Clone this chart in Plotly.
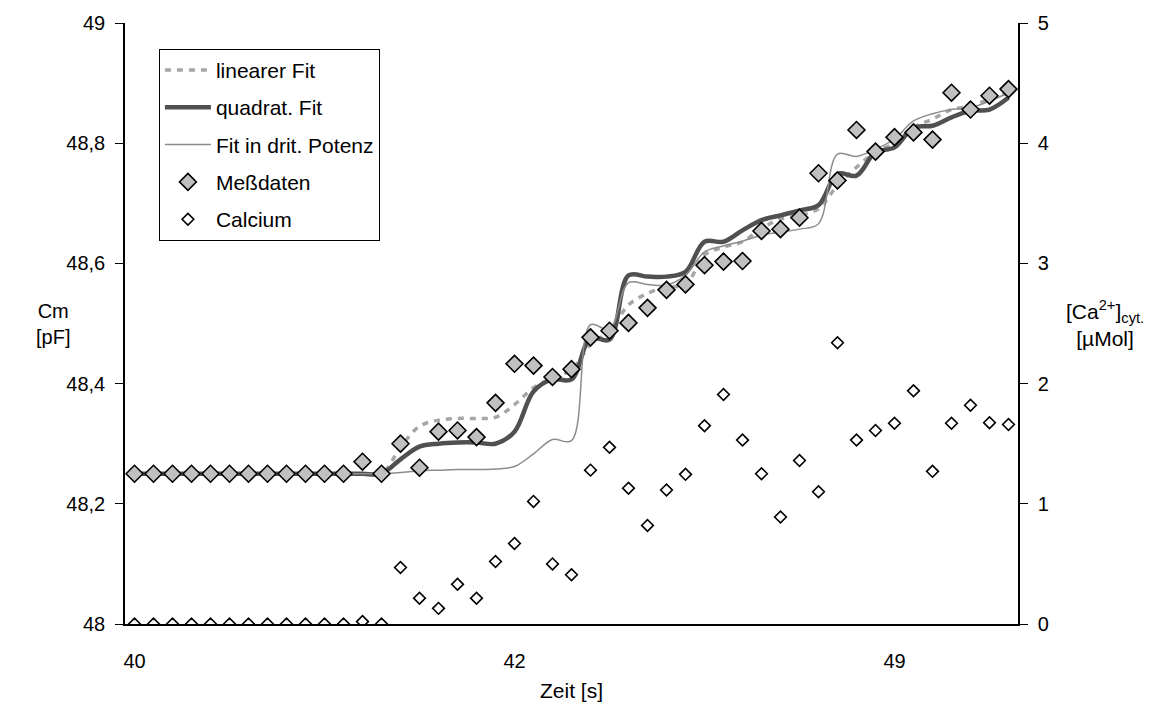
import plotly.graph_objects as go

# ---- data ----
idx = list(range(47))
x_labels_pos = [0, 20, 40]
x_labels_text = ["40", "42", "49"]
x_tick_pos = [19.5, 39.5]

messdaten = [48.25] * 12 + [48.27, 48.25, 48.30, 48.26, 48.32, 48.322, 48.311, 48.368,
             48.433, 48.43, 48.411, 48.424, 48.477, 48.488, 48.501, 48.526, 48.556,
             48.565, 48.597, 48.603, 48.604, 48.654, 48.657, 48.676, 48.75, 48.738,
             48.822, 48.786, 48.81, 48.818, 48.806, 48.884, 48.856, 48.879, 48.89]

calcium = [0.0] * 12 + [0.02, 0.0, 0.47, 0.215, 0.13, 0.33, 0.215, 0.52,
           0.67, 1.02, 0.50, 0.41, 1.28, 1.47, 1.13, 0.82, 1.115, 1.245,
           1.65, 1.91, 1.53, 1.25, 0.89, 1.36, 1.10, 2.34, 1.53, 1.61,
           1.67, 1.94, 1.27, 1.67, 1.82, 1.675, 1.66]

lin_fit = [48.25] * 14 + [48.294, 48.329, 48.339, 48.342, 48.342, 48.344,
           48.365, 48.393, 48.41, 48.423, 48.465, 48.487, 48.531, 48.55, 48.561,
           48.564, 48.614, 48.627, 48.636, 48.658, 48.674, 48.68, 48.691, 48.73,
           48.76, 48.785, 48.80, 48.826, 48.84, 48.856, 48.862, 48.873, 48.884]

quad_fit = [48.25] * 14 + [48.274, 48.295, 48.30, 48.302, 48.302, 48.30,
            48.32, 48.387, 48.407, 48.407, 48.476, 48.473, 48.58, 48.578, 48.578,
            48.586, 48.636, 48.636, 48.655, 48.672, 48.68, 48.688, 48.697, 48.749,
            48.746, 48.785, 48.793, 48.826, 48.829, 48.843, 48.854, 48.856, 48.876]

cub_fit = [48.25] * 14 + [48.252, 48.255, 48.256, 48.257, 48.257, 48.258,
           48.262, 48.283, 48.307, 48.305, 48.498, 48.49, 48.568, 48.565, 48.564,
           48.58, 48.619, 48.629, 48.637, 48.647, 48.652, 48.657, 48.666, 48.782,
           48.778, 48.79, 48.807, 48.837, 48.849, 48.856, 48.859, 48.87, 48.884]

y_left_vals = [48, 48.2, 48.4, 48.6, 48.8, 49]
y_left_text = ["48", "48,2", "48,4", "48,6", "48,8", "49"]
y_right_vals = [0, 1, 2, 3, 4, 5]

FONT = "Liberation Sans, Arial, sans-serif"

fig = go.Figure()
fig.add_trace(go.Scatter(x=idx, y=lin_fit, mode="lines", name="linearer Fit",
                         line=dict(color="#a6a6a6", width=3.5, dash="6px,6px",
                                   shape="spline", smoothing=1),
                         legendgroup="a"))
fig.add_trace(go.Scatter(x=idx, y=quad_fit, mode="lines", name="quadrat. Fit",
                         line=dict(color="#505050", width=4.5, shape="spline", smoothing=1),
                         legendgroup="b"))
fig.add_trace(go.Scatter(x=idx, y=cub_fit, mode="lines", name="Fit in drit. Potenz",
                         line=dict(color="#8c8c8c", width=1.5, shape="spline", smoothing=1),
                         legendgroup="c"))
fig.add_trace(go.Scatter(x=idx, y=messdaten, mode="markers", name="Meßdaten",
                         marker=dict(symbol="diamond", size=13, color="#c0c0c0",
                                     line=dict(color="black", width=1.6)),
                         legendgroup="d"))
fig.add_trace(go.Scatter(x=idx, y=calcium, mode="markers", name="Calcium", yaxis="y2",
                         marker=dict(symbol="diamond", size=9, color="white",
                                     line=dict(color="black", width=1.6)),
                         legendgroup="e"))

tickfont = dict(family=FONT, size=20, color="black")

fig.update_layout(
    width=1157, height=716,
    margin=dict(l=125, r=139, t=20, b=92),
    plot_bgcolor="white", paper_bgcolor="white",
    separators=",.",
    font=dict(family=FONT, color="black"),
    showlegend=True,
    legend=dict(x=0.038, y=0.957, xanchor="left", yanchor="top",
                bordercolor="black", borderwidth=1, bgcolor="white",
                font=dict(family=FONT, size=21, color="black"),
                itemwidth=46, tracegroupgap=7, traceorder="grouped"),
    xaxis=dict(range=[-0.5, 46.5], tickvals=x_labels_pos, ticktext=x_labels_text,
               ticks="", showgrid=False, zeroline=False, showline=True,
               linecolor="black", linewidth=1.5, tickfont=tickfont,
               ticklabelstandoff=18),
    xaxis2=dict(range=[-0.5, 46.5], overlaying="x", anchor="y", side="bottom",
                tickvals=x_tick_pos, ticks="outside", ticklen=8, tickwidth=1.2,
                tickcolor="black", showticklabels=False, showgrid=False,
                zeroline=False, showline=False),
    xaxis3=dict(range=[-0.5, 46.5], overlaying="x", anchor="y", side="bottom",
                tickvals=x_tick_pos, ticks="inside", ticklen=7, tickwidth=1.2,
                tickcolor="black", showticklabels=False, showgrid=False,
                zeroline=False, showline=False),
    xaxis4=dict(range=[-0.5, 46.5], overlaying="x", anchor="y", side="top",
                showline=True, linecolor="#808080", linewidth=1.2, ticks="",
                showticklabels=False, showgrid=False, zeroline=False),
    yaxis=dict(range=[48, 49], tickvals=y_left_vals, ticktext=y_left_text,
               ticks="outside", ticklen=8, tickwidth=1.2, tickcolor="black",
               showgrid=False, zeroline=False, showline=True, linecolor="black",
               linewidth=1.5, tickfont=tickfont, ticklabelstandoff=6),
    yaxis3=dict(range=[48, 49], overlaying="y", anchor="x", side="left",
                tickvals=y_left_vals, ticks="inside", ticklen=8, tickwidth=1.2,
                tickcolor="black", showticklabels=False, showgrid=False,
                zeroline=False, showline=False),
    yaxis2=dict(range=[0, 5], overlaying="y", anchor="x", side="right",
                tickvals=y_right_vals, ticks="outside", ticklen=8, tickwidth=1.2,
                tickcolor="black", showgrid=False, zeroline=False, showline=True,
                linecolor="black", linewidth=1.5, tickfont=tickfont,
                ticklabelstandoff=6),
    yaxis4=dict(range=[0, 5], overlaying="y", anchor="x", side="right",
                tickvals=y_right_vals, ticks="inside", ticklen=8, tickwidth=1.2,
                tickcolor="black", showticklabels=False, showgrid=False,
                zeroline=False, showline=False),
    annotations=[
        dict(text="Cm<br>[pF]", xref="paper", yref="paper", x=-0.081, y=0.5,
             xanchor="center", yanchor="middle", showarrow=False,
             font=dict(family=FONT, size=20, color="black")),
        dict(text="[Ca<sup>2+</sup>]<sub>cyt.</sub><br>[µMol]", xref="paper", yref="paper",
             x=1.097, y=0.5, xanchor="center", yanchor="middle", showarrow=False,
             font=dict(family=FONT, size=21, color="black")),
        dict(text="Zeit [s]", xref="paper", yref="paper", x=0.5, y=-0.11,
             xanchor="center", yanchor="middle", showarrow=False,
             font=dict(family=FONT, size=21, color="black")),
    ],
)

fig.write_html("out.html")
